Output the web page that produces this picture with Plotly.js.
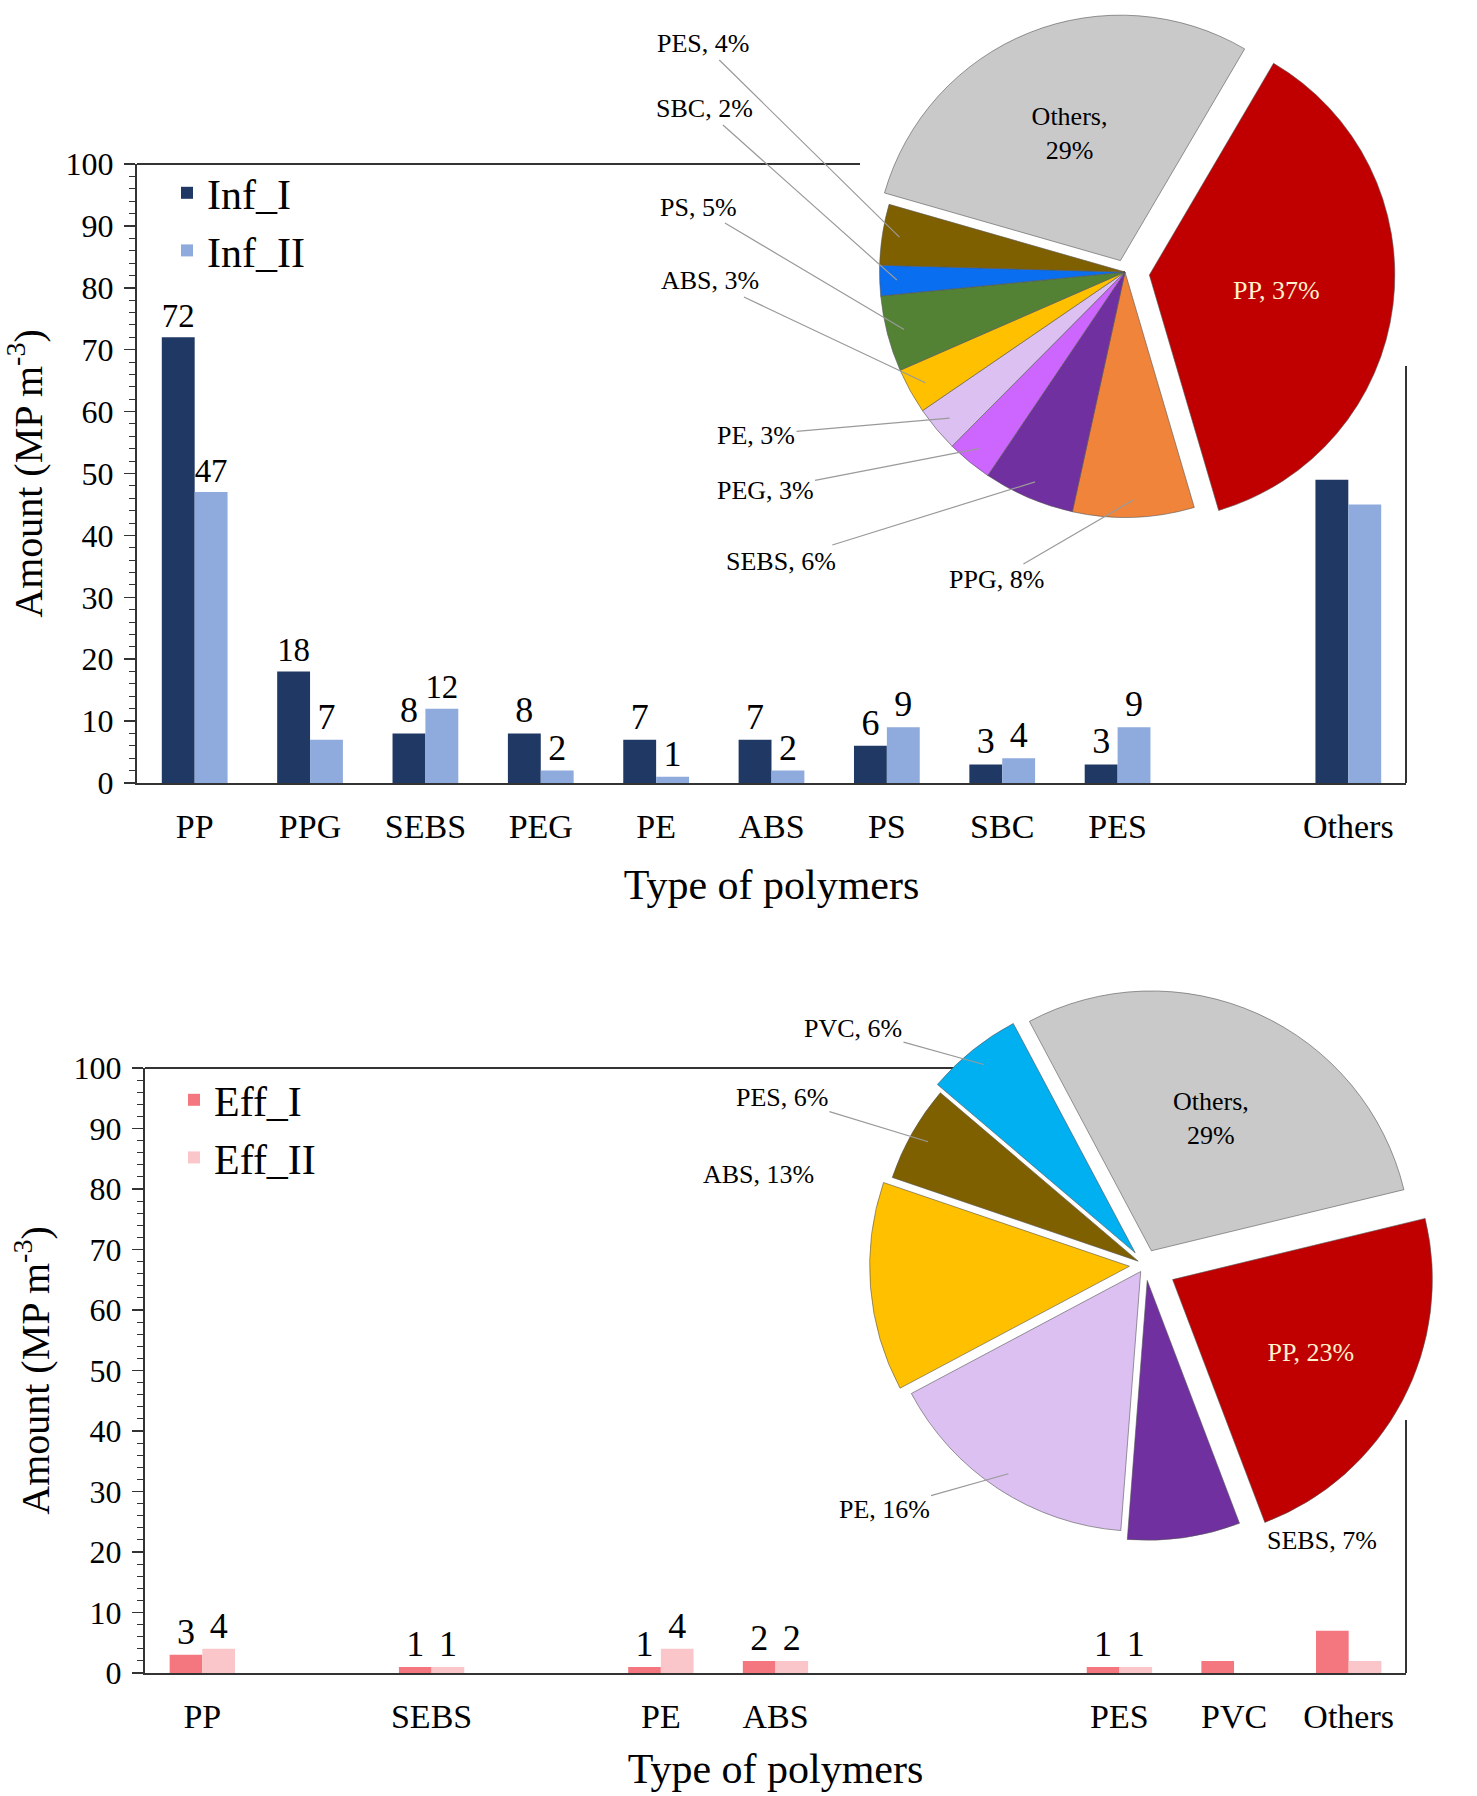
<!DOCTYPE html>
<html><head><meta charset="utf-8">
<script src="https://cdn.plot.ly/plotly-3.0.1.min.js"></script>
<style>body{margin:0;background:#fff}#chart{width:1477px;height:1796px}</style>
</head><body><div id="chart"></div>
<script>
// ---- data ----
const infCategories = ['PP','PPG','SEBS','PEG','PE','ABS','PS','SBC','PES','Others'];
const infI  = [72,18,8,8,7,7,6,3,3,49];
const infII = [47,7,12,2,1,2,9,4,9,45];
const infAxisOrder = ['PP','PPG','SEBS','PEG','PE','ABS','PS','SBC','PES',' ','Others'];
const infUnlabelled = ['Others'];

const effCategories = ['PP','SEBS','PE','ABS','PES','PVC','Others'];
const effI  = [3,1,1,2,1,2,7];
const effII = [4,1,4,2,1,0,2];
const effAxisOrder = ['PP',' ','SEBS','  ','PE','ABS','   ','    ','PES','PVC','Others'];
const effUnlabelled = ['PVC','Others'];

const infPieLabels = ['Others','PP','PPG','SEBS','PEG','PE','ABS','PS','SBC','PES'];
const infPieValues = [29,37,8,6,3,3,3,5,2,4];
const effPieLabels = ['Others','PP','SEBS','PE','ABS','PES','PVC'];
const effPieValues = [29,23,7,16,13,6,6];

const yTickVals = [0,10,20,30,40,50,60,70,80,90,100];

// ---- styles ----
const FONT = 'Liberation Serif, Times New Roman, serif';
const W = 1477, H = 1796;
const px = v => v / W, py = v => 1 - v / H;
const pieColors = {
  Others:'#C9C9C9', PP:'#C00000', PPG:'#F0843A', SEBS:'#7030A0', PEG:'#CC66FF',
  PE:'#DCC0F2', ABS:'#FFC000', PS:'#548235', SBC:'#0A6EF0', PES:'#7F6000', PVC:'#00B0F0'
};
const insideLabels = ['Others','PP'];
// label box centres (page pixels) for the outside pie labels
const infLabelPos = {PES:[703,44], SBC:[705,109], PS:[698,207], ABS:[710,281], PE:[756,435], PEG:[765,490], SEBS:[781,561], PPG:[996,580]};
const infLeader = ['PES','SBC','PS','ABS','PE','PEG','SEBS','PPG'];
const effLabelPos = {PVC:[853,1028], PES:[782,1097], ABS:[758,1174], PE:[884,1509], SEBS:[1322,1540]};
const effLeader = ['PVC','PES','PE'];

const infPull = infPieLabels.map(l => l==='PP' ? 0.1 : (l==='Others' ? 0.05 : 0));
const effPull = effPieLabels.map(l => l==='PP' ? 0.12 : (['Others','SEBS','ABS','PVC'].includes(l) ? 0.06 : 0.03));
const infDomain = {x:[px(855),px(1395)], y:[py(542),py(2)]};
const effDomain = {x:[px(854),px(1436)], y:[py(1556),py(974)]};
const infRotation = -74, effRotation = -28;

function barText(cats, vals, skip){
  return vals.map((v,i) => (skip.includes(cats[i]) || v === 0) ? '' : String(v));
}
function pieTemplates(labels){
  return labels.map(l => !insideLabels.includes(l) ? '' : (l === 'Others' ? '%{label},<br>%{value}%' : '%{label}, %{value}%'));
}
function pieAnnotations(labels, values, rotation, pulls, domain, labelPos, leader){
  const x0 = domain.x[0]*W, x1 = domain.x[1]*W, y0 = (1-domain.y[1])*H, y1 = (1-domain.y[0])*H;
  const cx = (x0+x1)/2, cy = (y0+y1)/2;
  const r = Math.min(x1-x0, y1-y0) / (2 + 2*Math.max(...pulls));
  const total = values.reduce((a,b)=>a+b,0);
  let cum = 0; const out = [];
  labels.forEach((l,i) => {
    const a = (rotation + 360*(cum + values[i]/2)/total) * Math.PI/180;
    cum += values[i];
    const pos = labelPos[l]; if(!pos) return;
    const k = 0.93 + pulls[i];
    const tx = cx + r*k*Math.sin(a), ty = cy - r*k*Math.cos(a);
    out.push({xref:'paper', yref:'paper', x:tx/W, y:1-ty/H, axref:'pixel', ayref:'pixel',
      ax:pos[0]-tx, ay:pos[1]-ty, text:`${l}, ${values[i]}%`, showarrow:true, arrowhead:0,
      arrowwidth:1.2, arrowcolor: leader.includes(l) ? '#9a9a9a' : 'rgba(0,0,0,0)', standoff:0,
      font:{family:FONT, size:26, color:'#000'}});
  });
  return out;
}

const barCommon = {type:'bar', textposition:'outside', cliponaxis:false,
  textfont:{family:FONT, size:36, color:'#000'}, hoverinfo:'x+y'};

const traces = [
  Object.assign({}, barCommon, {name:'Inf_I', x:infCategories, y:infI, text:barText(infCategories,infI,infUnlabelled),
    marker:{color:'#203864'}, xaxis:'x', yaxis:'y', legend:'legend'}),
  Object.assign({}, barCommon, {name:'Inf_II', x:infCategories, y:infII, text:barText(infCategories,infII,infUnlabelled),
    marker:{color:'#8FAADC'}, xaxis:'x', yaxis:'y', legend:'legend'}),
  Object.assign({}, barCommon, {name:'Eff_I', x:effCategories, y:effI, text:barText(effCategories,effI,effUnlabelled),
    marker:{color:'#F4777F'}, xaxis:'x2', yaxis:'y2', legend:'legend2'}),
  Object.assign({}, barCommon, {name:'Eff_II', x:effCategories, y:effII, text:barText(effCategories,effII,effUnlabelled),
    marker:{color:'#FBC6C9'}, xaxis:'x2', yaxis:'y2', legend:'legend2'}),
  {type:'pie', labels:infPieLabels, values:infPieValues, sort:false, direction:'clockwise', rotation:infRotation,
   showlegend:false, texttemplate:pieTemplates(infPieLabels), textposition:'inside',
   insidetextorientation:'horizontal',
   insidetextfont:{family:FONT, size:26, color:infPieLabels.map(l=>l==='PP'?'#FFF2CC':'#000')},
   marker:{colors:infPieLabels.map(l=>pieColors[l]), line:{color:'#555', width:0.6}},
   pull:infPull, domain:infDomain},
  {type:'pie', labels:effPieLabels, values:effPieValues, sort:false, direction:'clockwise', rotation:effRotation,
   showlegend:false, texttemplate:pieTemplates(effPieLabels), textposition:'inside',
   insidetextorientation:'horizontal',
   insidetextfont:{family:FONT, size:26, color:effPieLabels.map(l=>l==='PP'?'#FFF2CC':'#000')},
   marker:{colors:effPieLabels.map(l=>pieColors[l]), line:{color:'#555', width:0.6}},
   pull:effPull, domain:effDomain}
];

function yAxis(domain){
  return {domain, range:[0,100], tickvals:yTickVals, ticks:'outside', ticklen:11, tickwidth:1.5, tickcolor:'#333',
    minor:{dtick:2, ticks:'outside', ticklen:6, tickwidth:1, tickcolor:'#333'},
    showline:true, linecolor:'#333', linewidth:2, showgrid:false, zeroline:false, ticklabelstandoff:4,
    tickfont:{family:FONT, size:32, color:'#000'},
    title:{text:'Amount (MP m<sup>-3</sup>)', font:{family:FONT, size:40, color:'#000'}, standoff:12}};
}
function xAxis(domain, order, standoff){
  return {domain, type:'category', categoryorder:'array', categoryarray:order, range:[-0.5, order.length-0.5],
    showline:true, linecolor:'#333', linewidth:2, ticks:'', showgrid:false, zeroline:false,
    tickfont:{family:FONT, size:34, color:'#000'}, ticklabelstandoff:12,
    title:{text:'Type of polymers', font:{family:FONT, size:42, color:'#000'}, standoff}};
}

const layout = {
  width:W, height:H, margin:{l:0,r:0,t:0,b:0}, paper_bgcolor:'#fff', plot_bgcolor:'#fff',
  font:{family:FONT, color:'#000'}, barmode:'group', bargap:0.43, bargroupgap:0,
  xaxis: Object.assign(xAxis([px(137),px(1406)], infAxisOrder, 26), {anchor:'y'}),
  yaxis: Object.assign(yAxis([py(783),py(164)]), {anchor:'x'}),
  xaxis2: Object.assign(xAxis([px(145),px(1406)], effAxisOrder, 20), {anchor:'y2'}),
  yaxis2: Object.assign(yAxis([py(1673),py(1068)]), {anchor:'x2'}),
  legend:{x:px(167), y:py(159), xanchor:'left', yanchor:'top', bgcolor:'rgba(0,0,0,0)',
    font:{family:FONT, size:42, color:'#000'}, itemwidth:30},
  legend2:{x:px(174), y:py(1066), xanchor:'left', yanchor:'top', bgcolor:'rgba(0,0,0,0)',
    font:{family:FONT, size:42, color:'#000'}, itemwidth:30},
  annotations: pieAnnotations(infPieLabels, infPieValues, infRotation, infPull, infDomain, infLabelPos, infLeader)
    .concat(pieAnnotations(effPieLabels, effPieValues, effRotation, effPull, effDomain, effLabelPos, effLeader)),
  shapes:[
    {type:'line', xref:'paper', yref:'paper', x0:px(137), x1:px(860), y0:py(164), y1:py(164), line:{color:'#333', width:2}, layer:'below'},
    {type:'line', xref:'paper', yref:'paper', x0:px(1406), x1:px(1406), y0:py(366), y1:py(783), line:{color:'#333', width:2}, layer:'below'},
    {type:'line', xref:'paper', yref:'paper', x0:px(145), x1:px(954), y0:py(1068), y1:py(1068), line:{color:'#333', width:2}, layer:'below'},
    {type:'line', xref:'paper', yref:'paper', x0:px(1406), x1:px(1406), y0:py(1420), y1:py(1673), line:{color:'#333', width:2}, layer:'below'}
  ]
};

Plotly.newPlot('chart', traces, layout, {staticPlot:true});
</script>
</body></html>
